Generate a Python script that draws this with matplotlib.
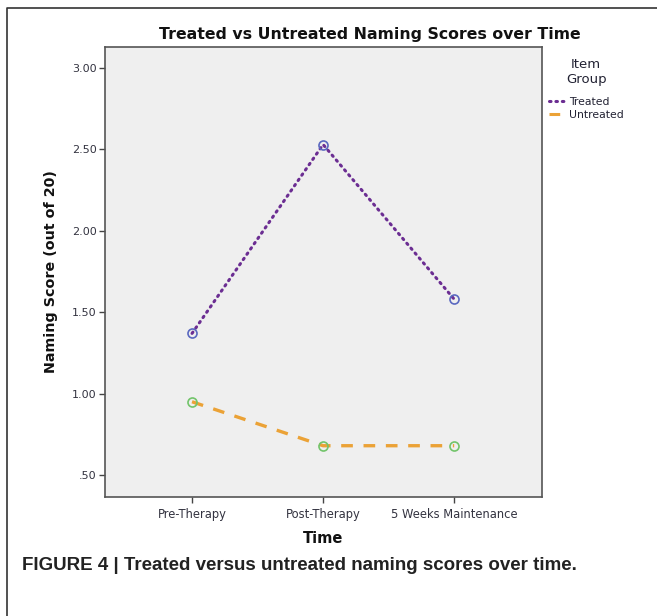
import matplotlib
matplotlib.use("Agg")
import matplotlib.pyplot as plt
from matplotlib.lines import Line2D

# data
time_points = ["Pre-Therapy", "Post-Therapy", "5 Weeks Maintenance"]
treated = [1.37, 2.53, 1.58]
untreated = [0.95, 0.68, 0.68]
y_ticks = [0.5, 1.0, 1.5, 2.0, 2.5, 3.0]
y_tick_labels = [".50", "1.00", "1.50", "2.00", "2.50", "3.00"]

W, H = 657, 616
fig = plt.figure(figsize=(W / 100, H / 100), dpi=100)
fig.patch.set_facecolor("white")


def px(x0, y0, x1, y1):
    # pixel box (top-left origin) -> figure fraction rect
    return [x0 / W, 1 - y1 / H, (x1 - x0) / W, (y1 - y0) / H]


dotted = (0, (0.5, 1.6))
dashed = (0, (3.5, 3.2))

ax = fig.add_axes(px(105, 47, 542, 497))
ax.set_facecolor("#efefef")

x = list(range(len(time_points)))
ax.plot(x, treated, color="#6b2d92", lw=2.2, linestyle=dotted,
        dash_capstyle="round", marker="o", markersize=6.5, markerfacecolor="none",
        markeredgecolor="#5a68c0", markeredgewidth=1.2, zorder=3)
ax.plot(x, untreated, color="#eba236", lw=2.4, linestyle=dashed,
        marker="o", markersize=6.5, markerfacecolor="none",
        markeredgecolor="#72c46a", markeredgewidth=1.2, zorder=3)

ax.set_xlim(-0.664, 2.67)
ax.set_ylim(0.365, 3.129)
ax.set_xticks(x)
ax.set_xticklabels(time_points, fontsize=8.3, color="#333340")
ax.set_yticks(y_ticks)
ax.set_yticklabels(y_tick_labels, fontsize=8, color="#333340")
ax.tick_params(axis="both", direction="out", length=4, width=1, color="#444444")
ax.tick_params(axis="y", pad=2)
ax.tick_params(axis="x", pad=4)
for s in ax.spines.values():
    s.set_color("#555555")
    s.set_linewidth(1.2)

ax.set_xlabel("Time", fontsize=10.5, fontweight="bold", color="#111111", labelpad=7)
ax.set_ylabel("Naming Score (out of 20)", fontsize=10.3, fontweight="bold",
              color="#111111", labelpad=10)

fig.text(370 / W, 1 - 35 / H, "Treated vs Untreated Naming Scores over Time",
         ha="center", va="center", fontsize=11.3, fontweight="bold", color="#111111")

handles = [
    Line2D([], [], color="#6b2d92", lw=2.2, linestyle=dotted, dash_capstyle="round"),
    Line2D([], [], color="#eba236", lw=2.2, linestyle=dashed),
]
leg = fig.legend(handles, ["Treated", "Untreated"], loc="upper left",
                 bbox_to_anchor=(541 / W, 1 - 50 / H), frameon=False,
                 title="Item\nGroup", fontsize=7.8, title_fontsize=9.5,
                 handlelength=1.6, handletextpad=0.3, labelspacing=0.3,
                 borderpad=0.2)
leg.get_title().set_color("#222233")
leg.get_title().set_multialignment("center")
leg._legend_box.align = "center"
leg._legend_box.sep = 8
for t in leg.get_texts():
    t.set_color("#222233")

# outer frame of the figure panel
fig.add_artist(Line2D([7 / W, 7 / W, 1.0], [0.0, 1 - 8 / H, 1 - 8 / H],
                      transform=fig.transFigure, color="#333333", lw=1.2))

fig.text(22 / W, 1 - 565 / H,
         "FIGURE 4 | Treated versus untreated naming scores over time.",
         ha="left", va="center", fontsize=13.5, fontweight="bold",
         family="Liberation Sans", color="#222222")

fig.savefig("out.png", dpi=100)
